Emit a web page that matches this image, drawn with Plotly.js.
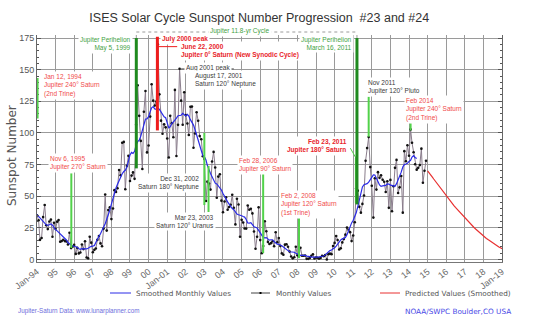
<!DOCTYPE html>
<html>
<head>
<meta charset="utf-8">
<script src="https://cdn.plot.ly/plotly-3.0.1.min.js"></script>
<style>
html,body{margin:0;padding:0;background:#fff;}
#chart{width:539px;height:322px;}
</style>
</head>
<body>
<div id="chart"></div>
<script>
// ---------------- DATA ----------------
const monthlyStartYear = 1994;   // first month: Jan 1994
const monthlyValues = [
  35.0, 31.0, 15.5, 17.0, 33.5, 43.0, 27.0, 24.0, 30.0, 31.5, 18.0, 29.0,   // 1994
  24.2, 29.9, 31.1, 14.0, 14.5, 15.6, 14.5, 14.3, 11.8, 21.1, 9.0, 10.0,    // 1995
  11.5, 4.4, 9.2, 4.8, 5.5, 11.8, 8.2, 14.4, 1.6, 0.9, 17.9, 13.3,          // 1996
  5.7, 7.6, 8.7, 15.5, 18.5, 12.7, 10.4, 24.4, 51.3, 22.8, 39.0, 41.2,      // 1997
  31.9, 40.3, 54.8, 53.4, 56.3, 70.7, 66.6, 92.2, 92.9, 55.5, 74.0, 81.9,   // 1998
  62.0, 66.3, 68.8, 63.7, 106.4, 137.7, 113.5, 93.7, 71.5, 116.7, 133.2, 84.6, // 1999
  90.1, 112.9, 138.5, 125.5, 121.6, 124.9, 170.1, 130.5, 109.7, 99.4, 106.8, 104.4, // 2000
  95.6, 80.6, 113.5, 107.7, 96.6, 134.0, 81.8, 106.4, 150.7, 125.5, 106.5, 132.2, // 2001
  114.1, 107.4, 98.4, 120.7, 120.8, 88.3, 99.6, 116.4, 109.6, 97.5, 95.0, 81.6, // 2002
  79.5, 46.2, 61.5, 60.0, 55.2, 77.4, 85.0, 72.7, 48.8, 65.5, 67.3, 46.5,   // 2003
  37.3, 45.8, 49.1, 39.3, 41.5, 43.2, 51.1, 40.9, 27.7, 48.0, 43.5, 17.9,   // 2004
  31.3, 29.2, 24.5, 24.4, 42.7, 39.3, 40.1, 36.4, 22.1, 8.5, 18.0, 41.2,    // 2005
  15.3, 4.9, 10.6, 30.2, 22.3, 13.9, 12.2, 12.9, 14.4, 10.4, 21.5, 13.6,    // 2006
  16.9, 10.6, 4.8, 3.7, 11.7, 12.0, 10.0, 6.2, 2.4, 0.9, 1.7, 10.1,         // 2007
  3.3, 2.1, 9.3, 2.9, 2.9, 3.1, 0.5, 0.5, 1.1, 2.9, 4.1, 0.8,               // 2008
  1.5, 1.4, 0.7, 1.2, 2.9, 2.6, 3.5, 0.0, 4.2, 4.6, 4.2, 10.6,              // 2009
  13.1, 18.6, 15.4, 7.9, 8.8, 13.5, 16.1, 19.6, 25.2, 23.5, 21.6, 14.5,     // 2010
  19.0, 29.4, 56.2, 54.4, 41.6, 37.0, 43.9, 50.6, 78.0, 88.0, 96.7, 73.0,   // 2011
  58.3, 33.1, 64.2, 55.2, 69.0, 64.5, 66.5, 63.0, 61.4, 53.3, 61.8, 40.8,   // 2012
  62.9, 38.1, 57.9, 72.4, 78.7, 52.5, 57.0, 66.0, 37.0, 85.6, 77.6, 90.3,   // 2013
  82.0, 102.8, 92.2, 84.7, 75.2, 71.0, 72.4, 74.6, 87.6, 60.6, 70.1, 78.0   // 2014
];

const smoothedStartYear = 1994;  // first month: Jan 1994
const smoothedValues = [
  35.5, 34.0, 32.5, 31.0, 29.8, 28.5, 27.4, 26.9, 27.5, 28.1, 27.1, 25.2,
  23.5, 22.6, 21.5, 20.3, 19.5, 18.3, 17.0, 15.4, 13.4, 12.1, 11.4, 10.8,
  10.4, 10.1, 9.7, 8.5, 8.0, 8.5, 8.4, 8.3, 8.4, 8.8, 9.8, 10.4,
  10.5, 11.0, 13.5, 16.5, 18.3, 20.3, 22.6, 25.0, 28.3, 31.8, 35.0, 39.0,
  43.7, 48.9, 53.4, 56.5, 59.4, 62.5, 65.5, 67.8, 69.5, 70.5, 73.0, 77.9,
  82.6, 84.6, 83.8, 85.5, 90.5, 93.1, 94.3, 97.5, 102.3, 107.8, 111.0, 111.1,
  112.9, 116.8, 119.9, 120.8, 119.0, 118.7, 119.8, 118.6, 116.3, 114.5, 112.7, 112.0,
  108.7, 104.0, 104.8, 107.5, 108.6, 109.8, 111.7, 113.6, 114.1, 114.0, 115.5, 114.6,
  113.5, 114.6, 113.3, 110.5, 108.8, 106.2, 102.7, 98.7, 94.6, 90.5, 85.3, 82.1,
  81.0, 78.6, 74.2, 70.4, 67.9, 65.3, 62.0, 60.3, 59.7, 58.4, 56.9, 54.9,
  52.1, 49.4, 47.1, 45.5, 43.8, 41.6, 40.2, 39.3, 37.5, 35.9, 35.3, 35.2,
  34.6, 33.9, 33.5, 31.6, 28.9, 28.8, 29.1, 27.5, 25.9, 25.5, 24.9, 23.0,
  20.8, 18.7, 17.4, 17.1, 17.3, 16.3, 15.3, 15.6, 15.6, 14.2, 12.7, 12.1,
  12.0, 11.6, 10.8, 9.9, 8.7, 7.7, 7.0, 6.1, 5.9, 6.1, 5.7, 4.9,
  4.2, 3.5, 3.3, 3.3, 3.5, 3.2, 2.7, 2.6, 2.2, 1.8, 1.7, 1.7,
  1.8, 1.9, 2.0, 2.2, 2.3, 2.7, 3.6, 4.8, 6.1, 7.0, 7.5, 8.2,
  9.2, 10.6, 12.3, 13.9, 15.4, 16.3, 16.7, 17.4, 19.6, 23.2, 26.5, 28.9,
  31.0, 33.5, 36.9, 41.8, 47.6, 53.2, 57.3, 59.1, 59.6, 59.9, 61.1, 63.4,
  65.5, 66.9, 66.8, 64.6, 61.7, 58.9, 57.8, 58.2, 58.1, 58.6, 59.7, 59.6,
  58.7, 58.4, 57.6, 57.9, 59.9, 62.6, 65.5, 69.0, 73.1, 75.0, 75.4, 76.0,
  77.4, 78.4, 80.9, 82.0, 80.6, 79.8
];

const predictedStartYear = 2015; // first month: Jan 2015
const predictedValues = [
  70.0, 68.6, 67.0, 65.3, 63.6, 61.9, 60.2, 58.5, 56.8, 55.1, 53.4, 51.7,
  50.1, 48.6, 47.1, 45.6, 44.1, 42.6, 41.1, 39.7, 38.3, 36.9, 35.5, 34.1,
  32.8, 31.5, 30.2, 28.9, 27.7, 26.5, 25.3, 24.1, 22.9, 21.8, 20.7, 19.6,
  18.6, 17.6, 16.6, 15.7, 14.8, 13.9, 13.0, 12.2, 11.4, 10.6, 9.9, 9.2,
  8.5
];

const tickYears = [1994,1995,1996,1997,1998,1999,2000,2001,2002,2003,2004,2005,2006,
                   2007,2008,2009,2010,2011,2012,2013,2014,2015,2016,2017,2018,2019];
const tickLabels = ['Jan-94','95','96','97','98','99','00','Jan-01','02','03','04','05','06',
                    '07','08','09','10','11','12','13','14','15','16','17','18','Jan-19'];
const yTickValues = [0,25,50,75,100,125,150,175];

// ---------------- HELPERS ----------------
function monthDates(startYear, n) {
  const out = [];
  for (let i = 0; i < n; i++) {
    const y = startYear + Math.floor(i / 12);
    const m = (i % 12) + 1;
    out.push(y + '-' + String(m).padStart(2, '0') + '-01');
  }
  return out;
}
// plot area: left 37, width 465, top 35, height 227 (pixels)
function P(px, py) { return { x: (px - 37) / 465, y: (262 - py) / 227 }; }

const FONT = 'Liberation Sans, Arial, sans-serif';
const RED = '#f04a4a', RED_B = '#e8242a', GREEN_T = '#3f9f3f', DARK = '#3a3a3a';
const LGREEN = '#52d24a', DGREEN = '#1f8a1f';

function note(text, px, py, xanchor, color, bold, extra) {
  const p = P(px, py);
  return Object.assign({
    xref: 'paper', yref: 'paper', x: p.x, y: p.y,
    xanchor: xanchor, yanchor: 'middle', align: xanchor === 'right' ? 'right' : (xanchor === 'center' ? 'center' : 'left'),
    text: bold ? '<b>' + text + '</b>' : text,
    showarrow: false, bgcolor: '#ffffff', borderpad: 1,
    font: { family: FONT, size: 6.5, color: color }
  }, extra || {});
}
function vline(date, y0, y1, color, width) {
  return { type: 'line', xref: 'x', yref: 'y', x0: date, x1: date, y0: y0, y1: y1,
           line: { color: color, width: width }, layer: 'above' };
}

// ---------------- TRACES ----------------
const traces = [
  { type: 'scatter', mode: 'lines+markers', x: monthDates(monthlyStartYear, monthlyValues.length), y: monthlyValues,
    line: { color: '#8a7d8c', width: 1 }, marker: { size: 2.6, color: '#111' }, showlegend: false, hoverinfo: 'skip' },
  { type: 'scatter', mode: 'lines', x: monthDates(smoothedStartYear, smoothedValues.length), y: smoothedValues,
    line: { color: '#2a2ae6', width: 1.2 }, showlegend: false, hoverinfo: 'skip' },
  { type: 'scatter', mode: 'lines', x: monthDates(predictedStartYear, predictedValues.length), y: predictedValues,
    line: { color: '#e83030', width: 1.2 }, showlegend: false, hoverinfo: 'skip' }
];

// ---------------- SHAPES ----------------
const topP = (262 - 38) / 227, dashP = (262 - 32) / 227;
const shapes = [
  vline('1994-01-12', 111.5, 143.5, LGREEN, 2),
  vline('1995-11-06', 9, 68, LGREEN, 2),
  vline('1999-05-05', 72, 175, DGREEN, 3),
  vline('2000-06-22', 102, 176, '#ee1c1c', 3),
  { type: 'line', xref: 'x', yref: 'y', x0: '2000-06-22', x1: '2001-07-16', y0: 168.2, y1: 168.2, line: { color: '#ee1c1c', width: 1 }, layer: 'above' },
  { type: 'line', xref: 'x', yref: 'y', x0: '2001-10-01', x1: '2004-08-01', y0: 150.6, y1: 150.6, line: { color: '#555', width: 1 }, layer: 'above' },
  vline('2002-12-31', 43, 100, LGREEN, 2),
  vline('2003-03-23', 37.5, 74, LGREEN, 2),
  vline('2006-02-28', 5, 72, LGREEN, 2),
  vline('2008-02-02', 1, 32.7, LGREEN, 2),
  vline('2011-02-23', 44.5, 80.2, LGREEN, 2),
  { type: 'line', xref: 'x', yref: 'y', x0: '2010-11-06', x1: '2011-02-23', y0: 88, y1: 80.2, line: { color: LGREEN, width: 1 }, layer: 'above' },
  vline('2011-03-16', 43.5, 175, DGREEN, 3),
  vline('2011-11-01', 97, 128.6, LGREEN, 2),
  vline('2014-02-01', 102, 107.8, LGREEN, 2),
  // Jupiter 11.8-yr cycle bracket
  { type: 'line', xref: 'x', yref: 'paper', x0: '1999-05-05', x1: '1999-05-05', y0: topP, y1: dashP, line: { color: '#9a9a9a', width: 1, dash: 'dot' } },
  { type: 'line', xref: 'x', yref: 'paper', x0: '2011-03-16', x1: '2011-03-16', y0: topP, y1: dashP, line: { color: '#9a9a9a', width: 1, dash: 'dot' } },
  { type: 'line', xref: 'x', yref: 'paper', x0: '1999-05-05', x1: '2011-03-16', y0: dashP, y1: dashP, line: { color: '#9a9a9a', width: 1, dash: 'dot' } }
];

// manual legend
function legLine(px0, px1, py, color) {
  const a = P(px0, py), b = P(px1, py);
  return { type: 'line', xref: 'paper', yref: 'paper', x0: a.x, x1: b.x, y0: a.y, y1: a.y, line: { color: color, width: 1 } };
}
shapes.push(legLine(110, 131, 293, '#2a2ae6'));
shapes.push(legLine(251, 270, 293, '#444'));
shapes.push(legLine(380, 400, 293, '#e83030'));
(function () {
  const a = P(259.5, 292), b = P(261.5, 294);
  shapes.push({ type: 'rect', xref: 'paper', yref: 'paper', x0: a.x, x1: b.x, y0: b.y, y1: a.y, line: { width: 0 }, fillcolor: '#000' });
})();

// ---------------- ANNOTATIONS ----------------
const annotations = [
  note('Jan 12, 1994<br>Jupiter 240° Saturn<br>(2nd Trine)', 42, 85.3, 'left', RED, false),
  note('Nov 6, 1995<br>Jupiter 270° Saturn', 48, 163.2, 'left', RED, false),
  note('Jupiter Perihelion<br>May 5, 1999', 133, 43.7, 'right', GREEN_T, false),
  note('Jupiter 11.8-yr Cycle', 240, 31, 'center', GREEN_T, false),
  note('July 2000 peak', 160, 39, 'left', RED_B, true),
  note('June 22, 2000<br>Jupiter 0° Saturn (New Synodic Cycle)', 179, 51.3, 'left', RED_B, true),
  note('Aug 2001 peak', 184, 68.3, 'left', DARK, false),
  note('August 17, 2001<br>Saturn 120° Neptune', 193, 80.2, 'left', DARK, false),
  note('Dec 31, 2002<br>Saturn 180° Neptune', 201, 182.5, 'right', DARK, false),
  note('Mar 23, 2003<br>Saturn 120° Uranus', 216, 221, 'right', DARK, false),
  note('Feb 28, 2006<br>Jupiter 90° Saturn', 237, 164.7, 'left', RED, false),
  note('Feb 2, 2008<br>Jupiter 120° Saturn<br>(1st Trine)', 279, 204, 'left', RED, false),
  note('Jupiter Perihelion<br>March 16, 2011', 354, 43.8, 'right', GREEN_T, false),
  note('Feb 23, 2011<br>Jupiter 180° Saturn', 349, 146, 'right', RED_B, true),
  note('Nov 2011<br>Jupiter 120° Pluto', 366, 87, 'left', DARK, false),
  note('Feb 2014<br>Jupiter 240° Saturn<br>(2nd Trine)', 404, 109.3, 'left', RED, false),
  // y axis title
  Object.assign(note('Sunspot Number', 12, 156, 'center', '#555', false),
    { textangle: -90, bgcolor: 'rgba(0,0,0,0)', font: { family: 'DejaVu Sans, sans-serif', size: 12, color: '#555' } }),
  // legend texts
  Object.assign(note('Smoothed Monthly Values', 134, 293, 'left', '#555', false),
    { bgcolor: 'rgba(0,0,0,0)', font: { family: 'DejaVu Sans, sans-serif', size: 7.3, color: '#555' } }),
  Object.assign(note('Monthly Values', 274, 293, 'left', '#555', false),
    { bgcolor: 'rgba(0,0,0,0)', font: { family: 'DejaVu Sans, sans-serif', size: 7.3, color: '#555' } }),
  Object.assign(note('Predicted Values (Smoothed)', 403, 293, 'left', '#555', false),
    { bgcolor: 'rgba(0,0,0,0)', font: { family: 'DejaVu Sans, sans-serif', size: 7.3, color: '#555' } }),
  // credits
  Object.assign(note('Jupiter-Saturn Data: www.lunarplanner.com', 16, 311, 'left', '#6d6ddc', false),
    { bgcolor: 'rgba(0,0,0,0)', font: { family: FONT, size: 6.3, color: '#6d6ddc' } }),
  Object.assign(note('NOAA/SWPC Boulder,CO USA', 403, 311.5, 'left', '#4848e6', false),
    { bgcolor: 'rgba(0,0,0,0)', font: { family: 'DejaVu Sans, sans-serif', size: 7.3, color: '#4848e6' } })
];

// ---------------- LAYOUT ----------------
const layout = {
  width: 539, height: 322,
  margin: { l: 37, r: 37, t: 35, b: 60, pad: 0 },
  paper_bgcolor: '#ffffff', plot_bgcolor: '#ffffff',
  title: { text: 'ISES Solar Cycle Sunspot Number Progression\u00a0 #23 and #24',
           font: { family: FONT, size: 12.5, color: '#333' },
           x: 0.481, xanchor: 'center', y: 1 - 18 / 322, yanchor: 'middle' },
  xaxis: {
    type: 'date', range: ['1994-01-01', '2019-01-01'],
    tickmode: 'array', tickvals: tickYears.map(y => y + '-01-01'), ticktext: tickLabels,
    tickangle: -38, tickfont: { family: FONT, size: 9, color: '#666' },
    showgrid: true, gridcolor: '#9a9a9a', gridwidth: 1,
    showline: true, linecolor: '#777', linewidth: 1, ticks: '', zeroline: false
  },
  yaxis: {
    range: [-2, 177.4], tickmode: 'array', tickvals: yTickValues,
    ticks: 'inside', ticklen: 4, tickcolor: '#555', tickwidth: 1,
    minor: { dtick: 5, tick0: 0, ticks: 'inside', ticklen: 2, tickcolor: '#555', showgrid: false },
    showline: true, linecolor: '#666', linewidth: 1, mirror: 'ticks',
    showgrid: true, gridcolor: '#9a9a9a', gridwidth: 1, zeroline: false,
    tickfont: { family: FONT, size: 9, color: '#555' }
  },
  showlegend: false,
  shapes: shapes,
  annotations: annotations
};

Plotly.newPlot('chart', traces, layout, { displayModeBar: false, staticPlot: true });
</script>
</body>
</html>
